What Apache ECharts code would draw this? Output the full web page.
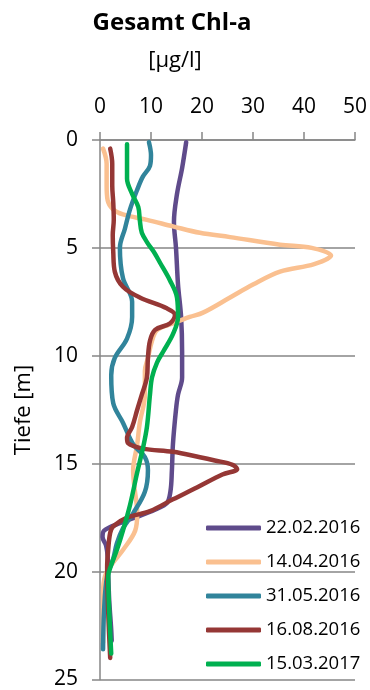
<!DOCTYPE html>
<html>
<head>
<meta charset="utf-8">
<script src="https://cdn.jsdelivr.net/npm/echarts@6/dist/echarts.min.js"></script>
<style>
  html, body { margin: 0; padding: 0; background: #fff; }
  #chart { width: 370px; height: 690px; }
</style>
</head>
<body>
<div id="chart"></div>
<script>
// Chlorophyll-a depth profiles: value [µg/l] against depth [m]
const seriesNames = ['22.02.2016', '14.04.2016', '31.05.2016', '16.08.2016', '15.03.2017'];

const depth_220216 = [0.1, 1.3, 2.5, 3.8, 5.0, 6.7, 8.2, 9.8, 11.0, 11.8, 12.5, 14.1, 15.3, 16.3, 16.85, 17.3, 17.75, 18.1, 18.4, 18.8, 19.3, 20.0, 21.3, 22.7, 23.2];
const chla_220216  = [16.9, 16.1, 15.1, 14.5, 14.9, 15.3, 15.9, 16.1, 16.1, 15.3, 14.9, 14.3, 14.1, 13.8, 13.0, 9.0, 4.0, 0.8, 0.5, 1.2, 1.5, 1.6, 1.8, 2.2, 2.3];

const depth_140416 = [0.4, 1.1, 2.1, 2.8, 3.2, 3.45, 3.7, 4.0, 4.3, 4.5, 4.85, 5.0, 5.35, 5.75, 6.1, 6.7, 7.3, 8.0, 8.2, 8.5, 8.8, 9.3, 10.1, 10.7, 11.8, 13.1, 14.1, 15.3, 16.0, 17.3, 18.1, 19.0, 19.6, 20.2, 21.0, 22.6, 23.3];
const chla_140416  = [0.6, 1.3, 1.3, 1.5, 2.5, 4.5, 9.2, 14.3, 19.6, 25.5, 35.3, 41.5, 45.3, 42.0, 35.3, 30.0, 25.5, 20.2, 17.6, 14.3, 11.2, 10.2, 9.4, 8.8, 8.8, 7.8, 7.3, 6.5, 6.7, 7.3, 6.9, 4.5, 2.5, 1.0, 0.6, 0.6, 0.6];

const depth_310516 = [0.1, 0.7, 1.2, 1.7, 2.3, 3.2, 4.1, 5.0, 6.4, 7.5, 8.2, 9.2, 10.1, 10.9, 12.2, 13.1, 14.1, 14.7, 15.3, 16.3, 17.3, 18.0, 18.7, 19.4, 20.2, 21.8, 23.6];
const chla_310516  = [9.6, 10.0, 9.8, 8.4, 7.3, 5.9, 4.9, 3.9, 4.5, 6.3, 6.3, 5.3, 2.9, 2.2, 2.6, 4.5, 6.5, 8.8, 9.4, 8.8, 6.5, 4.5, 3.3, 2.6, 1.4, 0.8, 0.6];

const depth_160816 = [0.4, 1.1, 2.1, 2.9, 3.7, 4.4, 5.2, 6.1, 6.8, 7.3, 7.8, 8.1, 8.5, 8.8, 9.3, 10.1, 11.0, 11.8, 12.5, 13.3, 13.8, 14.05, 14.3, 14.45, 14.7, 14.85, 15.05, 15.25, 15.5, 16.1, 16.65, 17.2, 17.5, 17.9, 18.2, 19.0, 19.8, 21.8, 24.0];
const chla_160816  = [2.0, 2.4, 2.4, 2.6, 2.7, 2.5, 2.6, 2.9, 4.5, 7.8, 13.1, 14.7, 13.7, 10.8, 9.8, 9.4, 9.2, 8.2, 7.3, 6.3, 5.3, 5.5, 8.4, 14.3, 19.6, 22.5, 26.0, 26.9, 24.0, 19.0, 14.3, 9.8, 5.3, 2.6, 2.0, 1.6, 1.4, 1.6, 2.0];

const depth_150317 = [0.2, 1.1, 1.8, 2.5, 3.1, 3.7, 4.3, 4.8, 5.2, 5.7, 6.5, 7.3, 8.2, 9.0, 9.8, 10.3, 11.0, 11.8, 13.3, 14.3, 15.4, 16.9, 18.1, 19.0, 19.7, 20.2, 21.8, 23.8];
const chla_150317  = [5.3, 5.3, 5.3, 6.3, 7.5, 7.8, 8.2, 9.4, 10.6, 11.8, 13.7, 15.1, 15.3, 14.3, 12.4, 11.2, 10.2, 9.8, 9.2, 8.4, 7.3, 5.9, 4.5, 3.3, 2.2, 1.6, 1.8, 2.2];

const xTicks = [0, 10, 20, 30, 40, 50];
const yTicks = [0, 5, 10, 15, 20, 25];

const profiles = [
  [chla_220216, depth_220216],
  [chla_140416, depth_140416],
  [chla_310516, depth_310516],
  [chla_160816, depth_160816],
  [chla_150317, depth_150317]
];
const colors = ['#5F4B8B', '#FAC090', '#31849B', '#953735', '#00B050'];

const FONT = 'Open Sans';
const axisGray = '#868686';

const chart = echarts.init(document.getElementById('chart'), null, { renderer: 'canvas' });

chart.setOption({
  animation: false,
  backgroundColor: '#ffffff',
  grid: { left: 100, right: 15, top: 140, bottom: 10, containLabel: false },
  graphic: [
    { type: 'text', x: 172, y: 23, style: { text: 'Gesamt Chl-a', fill: '#000', font: 'bold 24px "Open Sans"', align: 'center', verticalAlign: 'middle' } },
    { type: 'text', x: 175, y: 61, style: { text: '[µg/l]', fill: '#000', font: '22px "Open Sans"', align: 'center', verticalAlign: 'middle' } },
    { type: 'text', x: 24, y: 410, rotation: Math.PI / 2, style: { text: 'Tiefe [m]', fill: '#000', font: '22px "Open Sans"', align: 'center', verticalAlign: 'middle' } }
  ],
  legend: {
    orient: 'vertical',
    left: 201,
    top: 513,
    padding: 5,
    data: seriesNames,
    itemWidth: 55,
    itemHeight: 5,
    itemGap: 14,
    icon: 'roundRect',
    textStyle: { fontFamily: FONT, fontSize: 18.5, color: '#000', lineHeight: 20 }
  },
  xAxis: {
    type: 'value',
    position: 'top',
    min: xTicks[0],
    max: xTicks[xTicks.length - 1],
    interval: xTicks[1] - xTicks[0],
    axisLine: { show: true, lineStyle: { color: axisGray, width: 1.5 } },
    axisTick: { show: true, inside: false, length: 8, lineStyle: { color: axisGray, width: 1.5 } },
    axisLabel: { margin: 22, fontFamily: FONT, fontSize: 21, color: '#000' },
    splitLine: { show: false }
  },
  yAxis: {
    type: 'value',
    inverse: true,
    min: yTicks[0],
    max: yTicks[yTicks.length - 1],
    interval: yTicks[1] - yTicks[0],
    axisLine: { show: true, lineStyle: { color: axisGray, width: 1.5 } },
    axisTick: { show: true, inside: false, length: 8, lineStyle: { color: axisGray, width: 1.5 } },
    axisLabel: { margin: 22, fontFamily: FONT, fontSize: 21, color: '#000' },
    splitLine: { show: true, lineStyle: { color: axisGray, width: 1.5 } }
  },
  series: profiles.map(function (p, i) {
    return {
      name: seriesNames[i],
      type: 'line',
      data: p[0].map(function (v, k) { return [v, p[1][k]]; }),
      smooth: 0.35,
      symbol: 'none',
      showSymbol: false,
      color: colors[i],
      itemStyle: { color: colors[i] },
      lineStyle: { color: colors[i], width: 4.5, cap: 'round', join: 'round' },
      z: 2 + i
    };
  })
});
</script>
</body>
</html>
